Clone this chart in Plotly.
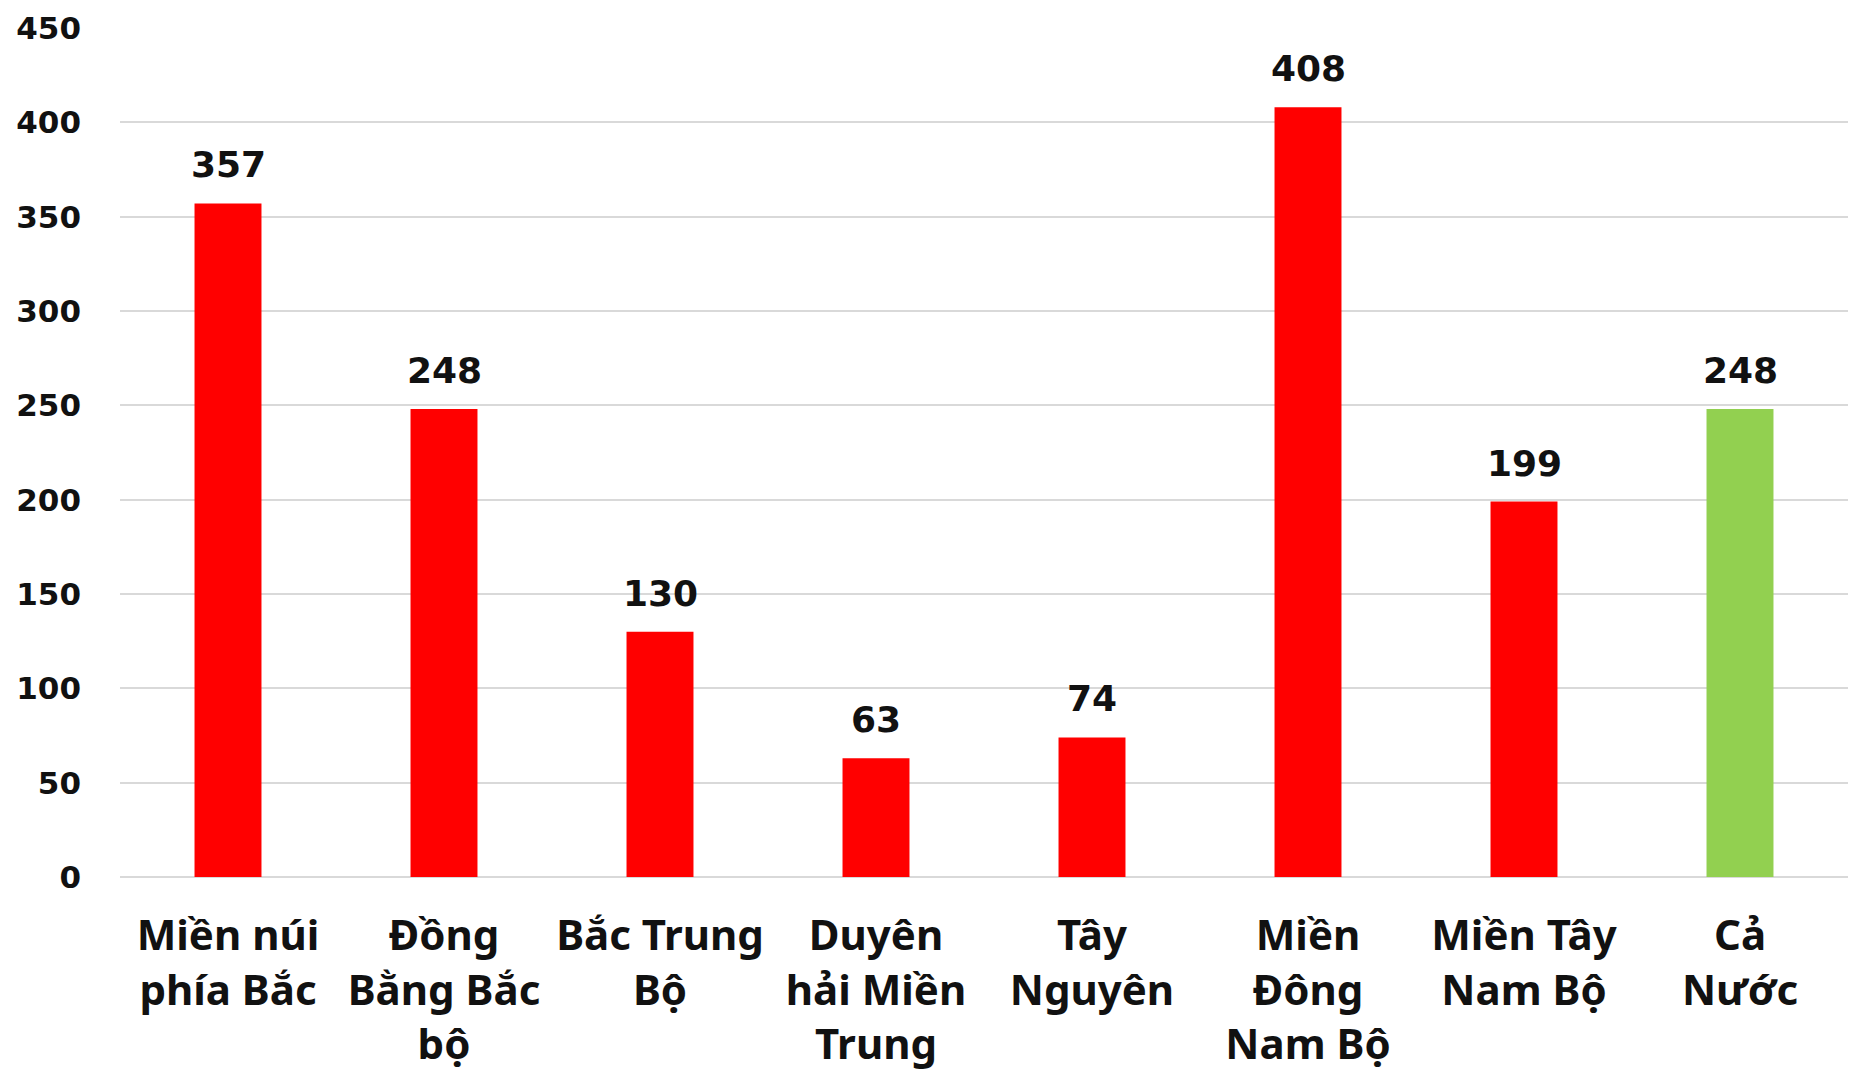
import plotly.graph_objects as go

categories = ["Miền núi<br>phía Bắc", "Đồng<br>Bằng Bắc<br>bộ", "Bắc Trung<br>Bộ",
              "Duyên<br>hải Miền<br>Trung", "Tây<br>Nguyên", "Miền<br>Đông<br>Nam Bộ",
              "Miền Tây<br>Nam Bộ", "Cả<br>Nước"]
values = [357, 248, 130, 63, 74, 408, 199, 248]
bar_colors = ["#FF0000"] * 7 + ["#92D050"]
y_ticks = [0, 50, 100, 150, 200, 250, 300, 350, 400, 450]

fig = go.Figure()
fig.add_trace(go.Bar(
    x=categories, y=values, marker=dict(color=bar_colors, line=dict(width=0)),
    width=0.31, hoverinfo="skip",
))

for c, v in zip(categories, values):
    fig.add_annotation(x=c, y=v, text=str(v), showarrow=False, yanchor="bottom",
                       yshift=16, font=dict(family="DejaVu Sans", size=36, color="#111", weight="bold"))

fig.update_layout(
    width=1851, height=1076,
    margin=dict(l=120, r=3, t=28, b=199),
    paper_bgcolor="white", plot_bgcolor="white",
    showlegend=False,
    bargap=0.69,
)
fig.update_yaxes(
    range=[0, 450], tickvals=y_ticks, showgrid=True, gridcolor="#D9D9D9", gridwidth=2,
    zeroline=True, zerolinecolor="#D9D9D9", zerolinewidth=2, showline=False,
    tickfont=dict(family="DejaVu Sans", size=31, color="#111", weight="bold"),
    ticklabelstandoff=38, automargin=False,
)
fig.update_xaxes(
    showgrid=False, showline=False, zeroline=False,
    tickfont=dict(family="Noto Sans", size=42, color="#111", weight="bold"),
    ticklabelstandoff=30, automargin=False,
)

fig.write_html("out.html")
